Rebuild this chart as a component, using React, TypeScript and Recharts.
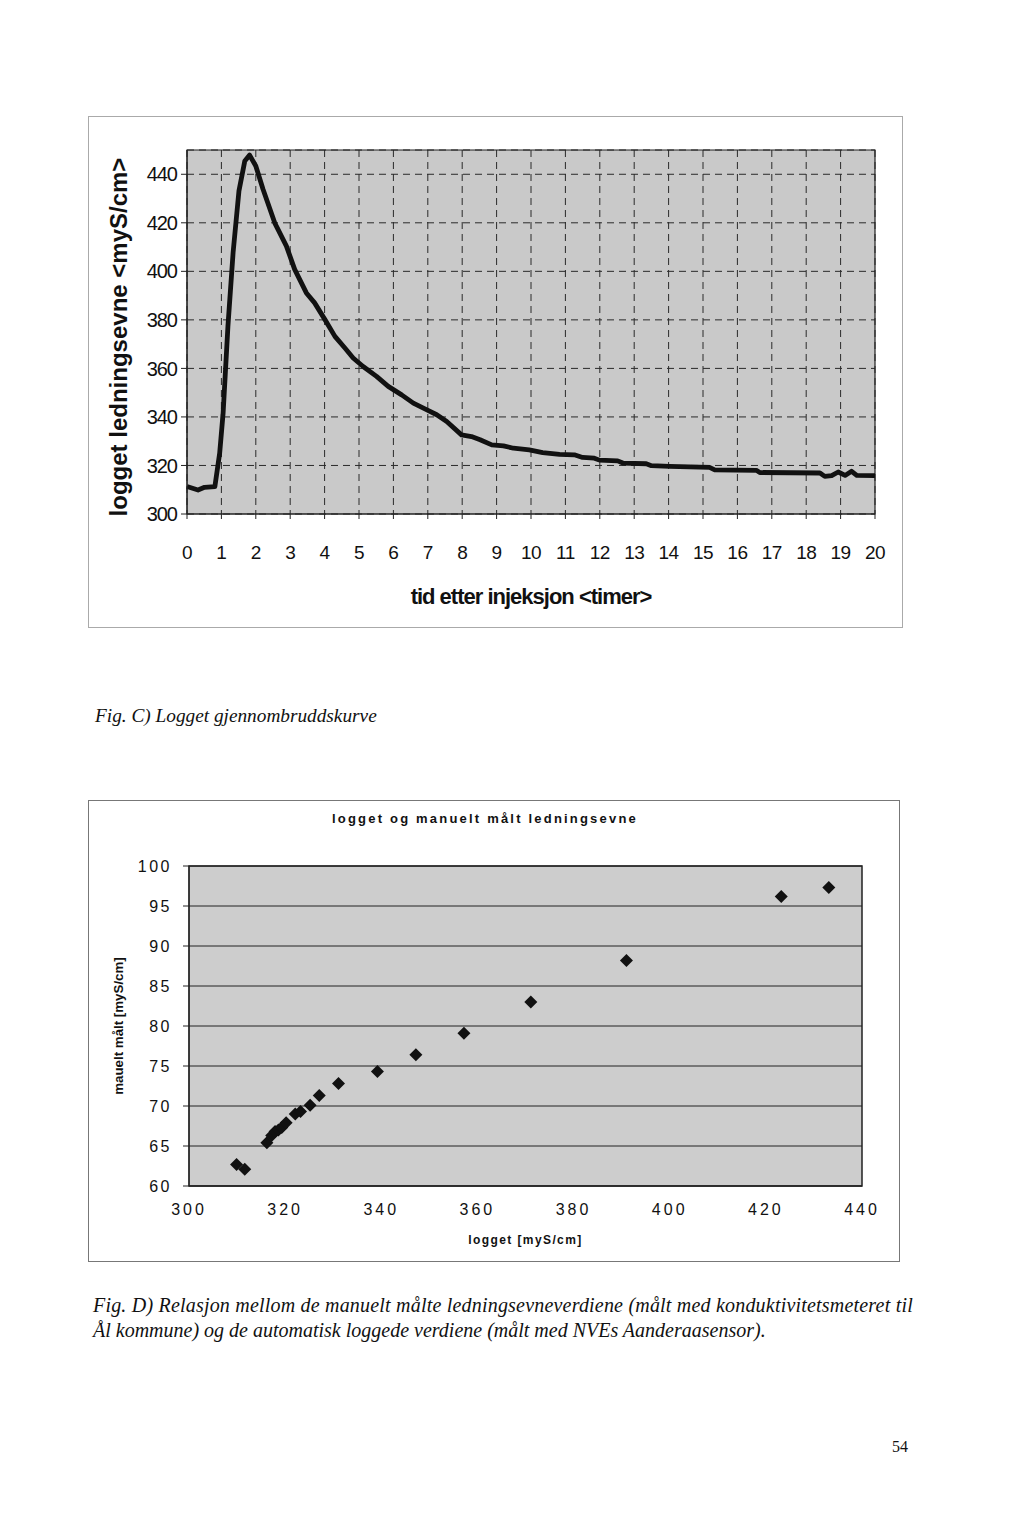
import React from 'react';
import {
  LineChart, Line, XAxis, YAxis, CartesianGrid, ReferenceArea, Label,
  ScatterChart, Scatter,
} from 'recharts';

// ---- Fig. C data: hours after injection vs logged conductivity ----
const hours = [0, 0.32, 0.51, 0.81, 0.95, 1.05, 1.19, 1.34, 1.51, 1.68, 1.82, 2.0, 2.21, 2.55, 2.89, 3.13, 3.47, 3.71, 4.01, 4.3, 4.59, 4.83, 5.12, 5.51, 5.85, 6.24, 6.58, 6.96, 7.26, 7.55, 7.98, 8.27, 8.52, 8.86, 9.2, 9.49, 9.95, 10.34, 10.83, 11.26, 11.5, 11.84, 11.99, 12.52, 12.67, 13.35, 13.5, 14.03, 15.19, 15.34, 16.55, 16.65, 18.4, 18.54, 18.74, 18.93, 19.13, 19.32, 19.47, 20];
const logged = [311.3, 309.9, 311.0, 311.3, 325.1, 341.6, 377.4, 407.7, 433.1, 445.5, 447.9, 443.4, 433.8, 420.0, 410.4, 400.8, 391.1, 387.0, 380.1, 373.2, 368.4, 364.3, 360.8, 356.7, 352.6, 349.1, 345.7, 343.0, 340.9, 338.1, 332.6, 331.9, 330.6, 328.5, 328.1, 327.1, 326.4, 325.3, 324.6, 324.4, 323.3, 323.0, 322.2, 321.9, 321.0, 320.7, 319.9, 319.6, 319.2, 318.2, 318.0, 317.1, 316.9, 315.5, 315.8, 317.3, 315.9, 317.6, 315.9, 315.8];
const hourTicks = [0, 1, 2, 3, 4, 5, 6, 7, 8, 9, 10, 11, 12, 13, 14, 15, 16, 17, 18, 19, 20];
const condTicks = [300, 320, 340, 360, 380, 400, 420, 440];

// ---- Fig. D data: logged vs manually measured ----
const loggetX = [309.9, 311.6, 316.2, 317.2, 317.9, 318.6, 319.3, 320.2, 322.1, 323.2, 325.2, 327.1, 331.1, 339.2, 347.2, 357.2, 371.1, 391.0, 423.2, 433.1];
const manueltY = [62.7, 62.1, 65.4, 66.3, 66.8, 67.0, 67.3, 67.9, 69.0, 69.3, 70.1, 71.3, 72.8, 74.3, 76.4, 79.1, 83.0, 88.2, 96.2, 97.3];
const scatterXTicks = [300, 320, 340, 360, 380, 400, 420, 440];
const scatterYTicks = [60, 65, 70, 75, 80, 85, 90, 95, 100];

const lineData = hours.map((t, i) => ({ t, v: logged[i] }));
const scatterData = loggetX.map((x, i) => ({ x, y: manueltY[i] }));

const sans = "'Liberation Sans', Arial, sans-serif";
const serif = "'Liberation Serif', 'Times New Roman', serif";

const Diamond = (props: any) => {
  const { cx, cy } = props;
  if (cx == null || cy == null) return null;
  const r = 6.5;
  return <path d={`M${cx},${cy - r}L${cx + r},${cy}L${cx},${cy + r}L${cx - r},${cy}Z`} fill="#111" />;
};

export default function App() {
  return (
    <div style={{ position: 'absolute', left: 0, top: 0, width: 1024, height: 1530, background: '#fff' }}>
      {/* Fig C frame */}
      <div style={{ position: 'absolute', left: 88, top: 116, width: 815, height: 512, border: '1px solid #aaa', boxSizing: 'border-box' }} />
      <div style={{ position: 'absolute', left: 88, top: 116 }}>
        <LineChart width={815} height={512} data={lineData} margin={{ top: 34, right: 28, left: 0, bottom: 0 }}>
          <CartesianGrid fill="#c9c9c9" stroke="#2a2a2a" strokeDasharray="7 5" strokeWidth={1} />
          <XAxis
            dataKey="t" type="number" domain={[0, 20]} ticks={hourTicks} height={114}
            axisLine={{ stroke: '#222' }} tickLine={{ stroke: '#222' }} tickSize={5} tickMargin={27}
            tick={{ fill: '#111', fontFamily: sans, fontSize: 19, letterSpacing: -0.5 }} interval={0}
          >
            <Label content={(p: any) => {
              const vb = p.viewBox;
              const x = vb.x + vb.width / 2;
              const y = vb.y + 82;
              return <text x={x} y={y} textAnchor="middle" dominantBaseline="central" fontFamily={sans} fontWeight="bold" fontSize={22} letterSpacing={-1} fill="#111">tid etter injeksjon &lt;timer&gt;</text>;
            }} />
          </XAxis>
          <YAxis
            type="number" domain={[300, 450]} ticks={condTicks} width={99}
            axisLine={{ stroke: '#222' }} tickLine={{ stroke: '#222' }} tickSize={6} tickMargin={4}
            tick={{ fill: '#111', fontFamily: sans, fontSize: 20, letterSpacing: -1 }} interval={0}
          >
            <Label content={(p: any) => {
              const vb = p.viewBox;
              const x = vb.x + 30;
              const y = vb.y + vb.height / 2 + 5;
              return <text x={x} y={y} transform={`rotate(-90 ${x} ${y})`} textAnchor="middle" dominantBaseline="central" fontFamily={sans} fontWeight="bold" fontSize={24} fill="#111">logget ledningsevne &lt;myS/cm&gt;</text>;
            }} />
          </YAxis>
          <ReferenceArea x1={0} x2={20} y1={300} y2={450} fill="none" stroke="#222" strokeWidth={1.2} />
          <Line type="linear" dataKey="v" stroke="#111" strokeWidth={4.8} dot={false} isAnimationActive={false} strokeLinejoin="round" />
        </LineChart>
      </div>

      <div style={{ position: 'absolute', left: 95, top: 706, fontFamily: serif, fontStyle: 'italic', fontSize: 19.3, lineHeight: '20px', whiteSpace: 'nowrap', color: '#111' }}>
        Fig. C) Logget gjennombruddskurve
      </div>

      {/* Fig D frame */}
      <div style={{ position: 'absolute', left: 88, top: 800, width: 812, height: 462, border: '1px solid #777', boxSizing: 'border-box' }} />
      <div style={{ position: 'absolute', left: 88, top: 800 }}>
        <ScatterChart width={812} height={462} margin={{ top: 66, right: 38, left: 0, bottom: 0 }}>
          <CartesianGrid fill="#cdcdcd" stroke="#222" vertical={false} strokeWidth={1} />
          <XAxis
            dataKey="x" type="number" domain={[300, 440]} ticks={scatterXTicks} height={76}
            axisLine={{ stroke: '#222' }} tickLine={false} tickSize={0} tickMargin={18}
            tick={{ fill: '#111', fontFamily: sans, fontSize: 16, letterSpacing: 3 }} interval={0}
          >
            <Label content={(p: any) => {
              const vb = p.viewBox;
              const x = vb.x + vb.width / 2;
              const y = vb.y + 54;
              return <text x={x} y={y} textAnchor="middle" dominantBaseline="central" fontFamily={sans} fontWeight="bold" fontSize={12} letterSpacing={1.4} fill="#111">logget [myS/cm]</text>;
            }} />
          </XAxis>
          <YAxis
            dataKey="y" type="number" domain={[60, 100]} ticks={scatterYTicks} width={101}
            axisLine={{ stroke: '#222' }} tickLine={{ stroke: '#222' }} tickSize={6} tickMargin={11}
            tick={{ fill: '#111', fontFamily: sans, fontSize: 16, letterSpacing: 2.5 }} interval={0}
          >
            <Label content={(p: any) => {
              const vb = p.viewBox;
              const x = vb.x + 30;
              const y = vb.y + vb.height / 2;
              return <text x={x} y={y} transform={`rotate(-90 ${x} ${y})`} textAnchor="middle" dominantBaseline="central" fontFamily={sans} fontWeight="bold" fontSize={13.3} fill="#111">mauelt målt [myS/cm]</text>;
            }} />
          </YAxis>
          <ReferenceArea x1={300} x2={440} y1={60} y2={100} fill="none" stroke="#222" strokeWidth={1.5} />
          <Scatter data={scatterData} shape={<Diamond />} isAnimationActive={false} />
        </ScatterChart>
      </div>
      <div style={{ position: 'absolute', left: 88, top: 811, width: 794, textAlign: 'center', fontFamily: sans, fontWeight: 'bold', fontSize: 13, letterSpacing: 2.2, color: '#111' }}>
        logget og manuelt målt ledningsevne
      </div>

      <div style={{ position: 'absolute', left: 93, top: 1293, fontFamily: serif, fontStyle: 'italic', fontSize: 20, lineHeight: '25px', letterSpacing: 0.2, whiteSpace: 'nowrap', color: '#111' }}>
        Fig. D) Relasjon mellom de manuelt målte ledningsevneverdiene (målt med konduktivitetsmeteret til
      </div>
      <div style={{ position: 'absolute', left: 93, top: 1318, fontFamily: serif, fontStyle: 'italic', fontSize: 20, lineHeight: '25px', whiteSpace: 'nowrap', color: '#111' }}>
        Ål kommune) og de automatisk loggede verdiene (målt med NVEs Aanderaasensor).
      </div>

      <div style={{ position: 'absolute', left: 892, top: 1438, fontFamily: serif, fontSize: 16, color: '#111' }}>54</div>
    </div>
  );
}
